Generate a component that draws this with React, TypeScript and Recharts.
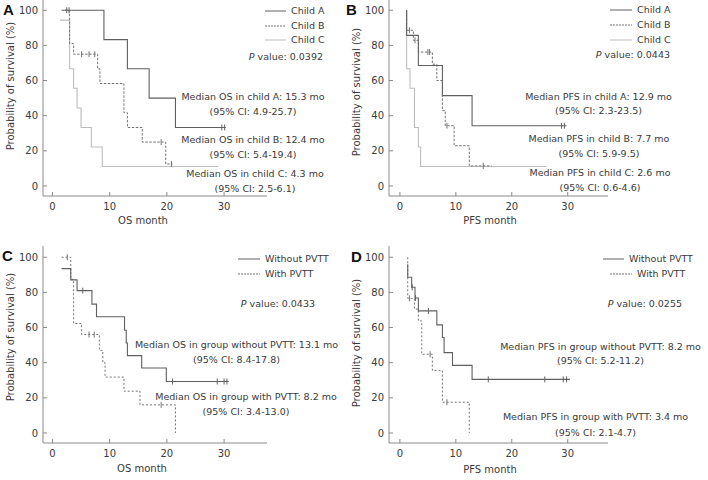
import { ComposedChart, Line, XAxis, YAxis } from "recharts"

const monthTicks = [0, 10, 20, 30]
const survivalTicks = [0, 20, 40, 60, 80, 100]

// A: OS by Child-Pugh class
const osChildATime = [1.6, 9.0, 13.1, 16.9, 21.5, 30.3]
const osChildASurv = [100, 83.3, 66.7, 50, 33.3, 33.3]
const osChildACens = [2.5, 2.9, 29.6, 30.1]
const osChildBTime = [2.2, 3.0, 3.7, 7.9, 8.3, 12.5, 13.1, 15.7, 19.8, 21.0]
const osChildBSurv = [100, 81, 75, 66.7, 58.3, 41.7, 33.3, 25, 12.5, 12.5]
const osChildBCens = [5.1, 6.4, 7.4, 19.0, 20.8]
const osChildCTime = [1.3, 3.0, 3.7, 4.3, 5.0, 6.8, 8.7, 29.0]
const osChildCSurv = [94.4, 66.7, 55.6, 44.4, 33.3, 22.2, 11.1, 11.1]
const osChildCCens: number[] = []

// B: PFS by Child-Pugh class
const pfsChildATime = [1.2, 1.2, 3.3, 7.6, 12.9, 29.8]
const pfsChildASurv = [100, 85.7, 68.6, 51.4, 34.3, 34.3]
const pfsChildACens = [28.9, 29.4]
const pfsChildBTime = [1.2, 1.2, 2.4, 3.3, 5.8, 6.6, 7.6, 8.1, 9.7, 12.4, 16.4]
const pfsChildBSurv = [100, 88.6, 82.9, 76.2, 69.3, 60, 42.9, 34.3, 22.9, 11.4, 11.4]
const pfsChildBCens = [1.7, 2.7, 5.0, 5.3, 8.4, 14.9]
const pfsChildCTime = [1.2, 1.2, 1.8, 2.6, 3.3, 3.7, 26.2]
const pfsChildCSurv = [100, 66.7, 55.6, 33.3, 22.2, 11.1, 11.1]
const pfsChildCCens: number[] = []

// C: OS by PVTT
const osNoPvttTime = [1.6, 3.2, 4.3, 6.9, 7.7, 12.6, 12.9, 13.1, 15.6, 19.9, 30.8]
const osNoPvttSurv = [93.5, 87.1, 81, 73.3, 66.1, 58.5, 51.2, 44, 37, 29.3, 29.3]
const osNoPvttCens = [5.3, 21.0, 28.8, 30.0, 30.5]
const osPvttTime = [1.6, 3.2, 3.7, 5.1, 8.2, 8.8, 9.2, 12.5, 15.3, 21.5]
const osPvttSurv = [100, 87.4, 62.3, 56, 47, 40, 31.8, 23.8, 16, 0]
const osPvttCens = [2.6, 6.4, 7.3, 19.0]

// D: PFS by PVTT
const pfsNoPvttTime = [1.4, 1.4, 2.1, 2.7, 3.3, 6.6, 7.6, 7.9, 9.4, 12.9, 30.4]
const pfsNoPvttSurv = [96, 88.6, 82.9, 76.8, 69.5, 61.5, 54.3, 45.7, 38.5, 30.5, 30.5]
const pfsNoPvttCens = [2.2, 2.8, 5.1, 15.8, 25.9, 29.2, 29.8]
const pfsPvttTime = [1.4, 1.4, 2.6, 3.3, 3.9, 5.8, 7.6, 12.4, 12.4]
const pfsPvttSurv = [100, 76.6, 70.5, 63.8, 44.8, 35.6, 17.5, 17.5, 0]
const pfsPvttCens = [1.7, 5.4, 8.4]

const FONT = "'DejaVu Sans', Verdana, sans-serif"
const AXIS = "#8a8a8a"
const TEXT = "#3a3a3a"
const DARK = "#606060"
const MID = "#737373"
const LIGHT = "#bdbdbd"

type Pt = { t: number; s: number; cens?: boolean }

function buildCurve(times: number[], surv: number[], cens: number[]): Pt[] {
  const pts: Pt[] = times.map((t, i) => ({ t, s: surv[i] }))
  cens.forEach((c) => {
    let s = surv[0]
    times.forEach((t, i) => {
      if (t <= c) s = surv[i]
    })
    pts.push({ t: c, s, cens: true })
  })
  return pts.sort((a, b) => a.t - b.t)
}

interface Series {
  data: Pt[]
  color: string
  dash?: string
  width: number
}

const censorDot = (color: string) => (props: any) => {
  const { cx, cy, payload, index } = props
  if (!payload || !payload.cens) return <g key={index} />
  return <line key={index} x1={cx} x2={cx} y1={cy - 3} y2={cy + 3} stroke={color} strokeWidth={1} />
}

function KmPanel({ left, top, yWidth, right, xDomain, series }: {
  left: number
  top: number
  yWidth: number
  right: number
  xDomain: [number, number]
  series: Series[]
}) {
  return (
    <div style={{ position: "absolute", left, top }}>
      <ComposedChart width={354} height={237} margin={{ top: 0, right, bottom: 0, left: 0 }}>
        <XAxis
          type="number"
          dataKey="t"
          domain={xDomain}
          ticks={monthTicks}
          allowDataOverflow
          height={40}
          stroke={AXIS}
          tickSize={-4}
          tickMargin={11}
          tick={{ fontSize: 10, fill: TEXT, fontFamily: FONT }}
        />
        <YAxis
          type="number"
          domain={[-5.7, 106.4]}
          ticks={survivalTicks}
          allowDataOverflow
          width={yWidth}
          stroke={AXIS}
          tickSize={-4}
          tickMargin={9}
          tick={{ fontSize: 10, fill: TEXT, fontFamily: FONT }}
        />
        {series.map((s, i) => (
          <Line
            key={i}
            data={s.data}
            dataKey="s"
            type="stepAfter"
            stroke={s.color}
            strokeWidth={s.width}
            strokeDasharray={s.dash}
            dot={censorDot(s.color)}
            activeDot={false}
            isAnimationActive={false}
          />
        ))}
      </ComposedChart>
    </div>
  )
}

function Txt({ x, y, children, align = "left", style }: any) {
  const tx = align === "center" ? "-50%" : align === "right" ? "-100%" : "0"
  return (
    <div
      style={{
        position: "absolute",
        left: x,
        top: y - 7,
        lineHeight: "14px",
        whiteSpace: "nowrap",
        transform: `translateX(${tx})`,
        textAlign: align,
        ...style,
      }}
    >
      {children}
    </div>
  )
}

function Annot({ x, y, lines, gap = 15 }: { x: number; y: number; lines: string[]; gap?: number }) {
  return (
    <>
      {lines.map((l, i) => (
        <Txt key={i} x={x} y={y + i * gap} align="center">
          {l}
        </Txt>
      ))}
    </>
  )
}

function LegendRow({ x1, x2, y, color, dash, label }: any) {
  return (
    <>
      <svg style={{ position: "absolute", left: x1, top: y - 2 }} width={x2 - x1} height={4}>
        <line x1={0} x2={x2 - x1} y1={2} y2={2} stroke={color} strokeWidth={1} strokeDasharray={dash} />
      </svg>
      <Txt x={x2 + 5} y={y}>{label}</Txt>
    </>
  )
}

function YTitle({ x, y }: { x: number; y: number }) {
  return (
    <div
      style={{
        position: "absolute",
        left: x,
        top: y,
        whiteSpace: "nowrap",
        transform: "translate(-50%, -50%) rotate(-90deg)",
        fontSize: 10,
      }}
    >
      Probability of survival (%)
    </div>
  )
}

function Letter({ x, y, c }: { x: number; y: number; c: string }) {
  return (
    <div style={{ position: "absolute", left: x, top: y - 9, fontFamily: "'Liberation Sans', Arial", fontWeight: "bold", fontSize: 15, lineHeight: "18px", color: "#111" }}>
      {c}
    </div>
  )
}

const P = ({ v }: { v: string }) => (
  <span>
    <i>P</i> value: {v}
  </span>
)

export default function App() {
  const panelA: Series[] = [
    { data: buildCurve(osChildCTime, osChildCSurv, osChildCCens), color: LIGHT, width: 1.1 },
    { data: buildCurve(osChildBTime, osChildBSurv, osChildBCens), color: MID, dash: "2.5 1.5", width: 1 },
    { data: buildCurve(osChildATime, osChildASurv, osChildACens), color: DARK, width: 1.1 },
  ]
  const panelB: Series[] = [
    { data: buildCurve(pfsChildCTime, pfsChildCSurv, pfsChildCCens), color: LIGHT, width: 1.1 },
    { data: buildCurve(pfsChildBTime, pfsChildBSurv, pfsChildBCens), color: MID, dash: "2.5 1.5", width: 1 },
    { data: buildCurve(pfsChildATime, pfsChildASurv, pfsChildACens), color: DARK, width: 1.1 },
  ]
  const panelC: Series[] = [
    { data: buildCurve(osPvttTime, osPvttSurv, osPvttCens), color: MID, dash: "2 2", width: 1 },
    { data: buildCurve(osNoPvttTime, osNoPvttSurv, osNoPvttCens), color: DARK, width: 1.1 },
  ]
  const panelD: Series[] = [
    { data: buildCurve(pfsPvttTime, pfsPvttSurv, pfsPvttCens), color: MID, dash: "2 2", width: 1 },
    { data: buildCurve(pfsNoPvttTime, pfsNoPvttSurv, pfsNoPvttCens), color: DARK, width: 1.1 },
  ]

  return (
    <div
      style={{
        position: "absolute",
        left: 0,
        top: 0,
        width: 708,
        height: 480,
        overflow: "hidden",
        background: "#fff",
        fontFamily: FONT,
        fontSize: 9.5,
        color: TEXT,
      }}
    >
      <KmPanel left={0} top={-1} yWidth={43} right={87} xDomain={[-1.65, 37.5]} series={panelA} />
      <KmPanel left={354} top={-1} yWidth={35} right={100} xDomain={[-1.95, 37.2]} series={panelB} />
      <KmPanel left={0} top={246} yWidth={43} right={87} xDomain={[-1.65, 37.5]} series={panelC} />
      <KmPanel left={354} top={246} yWidth={35} right={100} xDomain={[-1.95, 37.2]} series={panelD} />

      <Letter x={3} y={10} c="A" />
      <Letter x={346} y={10} c="B" />
      <Letter x={2} y={256} c="C" />
      <Letter x={351} y={257} c="D" />

      <YTitle x={10} y={86} />
      <YTitle x={356} y={92} />
      <YTitle x={10} y={337} />
      <YTitle x={356} y={343} />

      <Txt x={143} y={221} align="center" style={{ fontSize: 10 }}>OS month</Txt>
      <Txt x={490} y={221} align="center" style={{ fontSize: 10 }}>PFS month</Txt>
      <Txt x={142} y={469} align="center" style={{ fontSize: 10 }}>OS month</Txt>
      <Txt x={490} y={470} align="center" style={{ fontSize: 10 }}>PFS month</Txt>

      {/* A legend + annotations */}
      <LegendRow x1={265} x2={286} y={11} color={DARK} label="Child A" />
      <LegendRow x1={265} x2={286} y={25.5} color={MID} dash="2 1" label="Child B" />
      <LegendRow x1={265} x2={286} y={40} color={LIGHT} label="Child C" />
      <Txt x={323} y={57} align="right"><P v="0.0392" /></Txt>
      <Annot x={253} y={97} lines={["Median OS in child A: 15.3 mo", "(95% CI: 4.9-25.7)"]} />
      <Annot x={253} y={140} lines={["Median OS in child B: 12.4 mo", "(95% CI: 5.4-19.4)"]} />
      <Annot x={255} y={173.5} lines={["Median OS in child C: 4.3 mo", "(95% CI: 2.5-6.1)"]} />

      {/* B legend + annotations */}
      <LegendRow x1={610} x2={632} y={10} color={DARK} label="Child A" />
      <LegendRow x1={610} x2={632} y={25} color={MID} dash="2 1" label="Child B" />
      <LegendRow x1={610} x2={632} y={40} color={LIGHT} label="Child C" />
      <Txt x={670} y={55} align="right"><P v="0.0443" /></Txt>
      <Annot x={598.5} y={96.5} gap={14} lines={["Median PFS in child A: 12.9 mo", "(95% CI: 2.3-23.5)"]} />
      <Annot x={599} y={138.5} gap={15} lines={["Median PFS in child B: 7.7 mo", "(95% CI: 5.9-9.5)"]} />
      <Annot x={600} y={172.5} gap={15} lines={["Median PFS in child C: 2.6 mo", "(95% CI: 0.6-4.6)"]} />

      {/* C legend + annotations */}
      <LegendRow x1={238} x2={260} y={258.5} color={DARK} label="Without PVTT" />
      <LegendRow x1={238} x2={260} y={273.5} color={MID} dash="2 1" label="With PVTT" />
      <Txt x={315} y={303.5} align="right"><P v="0.0433" /></Txt>
      <Annot x={236.5} y={345} lines={["Median OS in group without PVTT: 13.1 mo", "(95% CI: 8.4-17.8)"]} />
      <Annot x={246} y={396.5} lines={["Median OS in group with PVTT: 8.2 mo", "(95% CI: 3.4-13.0)"]} />

      {/* D legend + annotations */}
      <LegendRow x1={603} x2={624} y={258.5} color={DARK} label="Without PVTT" />
      <LegendRow x1={610} x2={632} y={273.5} color={MID} dash="2 1" label="With PVTT" />
      <Txt x={682} y={303.5} align="right"><P v="0.0255" /></Txt>
      <Annot x={600.5} y={346.5} gap={14.5} lines={["Median PFS in group without PVTT: 8.2 mo", "(95% CI: 5.2-11.2)"]} />
      <Annot x={595.5} y={416.5} gap={16} lines={["Median PFS in group with PVTT: 3.4 mo", "(95% CI: 2.1-4.7)"]} />
    </div>
  )
}
